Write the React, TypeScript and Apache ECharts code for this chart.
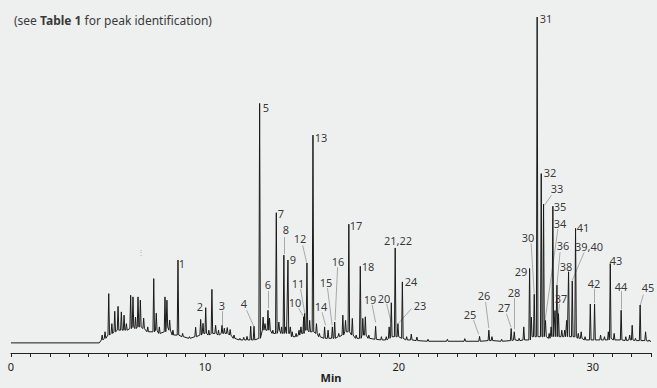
import React, { useEffect, useRef } from "react";
import * as echarts from "echarts";

// Retention time axis (min)
const xMin = 0;
const xMax = 33;
const xLabelEvery = 10;

// Chromatogram peaks: [retention time (min), apex height (% of peak 31), local foot level]
const peaks: [number, number, number][] = [
  [4.7, 2.5, 1], [4.85, 3.5, 1.5], [5.04, 15.2, 2.5], [5.2, 6, 3], [5.35, 9.8, 3.5],
  [5.52, 11.3, 4], [5.69, 9.6, 4], [5.83, 8.6, 4], [5.95, 6, 4], [6.17, 14.7, 4.5],
  [6.29, 14.2, 5], [6.42, 8, 4.5], [6.55, 14.2, 5], [6.67, 13.2, 5], [6.84, 7.7, 4.5],
  [7.05, 5, 3.5], [7.36, 19.8, 3.5], [7.49, 9.2, 4], [7.65, 5, 3], [7.94, 14.2, 3.5],
  [8.04, 13.2, 5], [8.18, 7.1, 4], [8.35, 4, 2.5], [8.61, 25.5, 2.5], [8.85, 3, 2],
  [9.2, 2, 1.5], [9.52, 4.9, 2], [9.78, 7.3, 2.5], [9.9, 6.1, 3], [10.04, 10.9, 3],
  [10.2, 4, 2.5], [10.36, 16.5, 3], [10.55, 5.5, 3], [10.7, 4, 2.5], [10.88, 5.5, 3],
  [11.0, 4.6, 3], [11.15, 4.8, 3], [11.3, 4.2, 2.5], [11.5, 2.5, 1.5], [11.8, 1.5, 1],
  [12.0, 1.8, 1], [12.17, 2.1, 1], [12.36, 5.2, 1], [12.53, 5.2, 1], [12.82, 73.5, 1.5],
  [13.0, 8, 4], [13.1, 6, 4], [13.25, 10.1, 4], [13.33, 7.7, 4], [13.5, 4, 3],
  [13.68, 40, 3], [13.81, 6.5, 4], [13.95, 5, 3], [14.07, 27, 3], [14.17, 5, 3],
  [14.28, 25.5, 3], [14.4, 5, 3], [14.5, 3.5, 2], [14.7, 3, 2], [14.85, 4, 2.5],
  [14.95, 5, 3], [15.09, 8.1, 3], [15.14, 9.1, 4], [15.26, 24.6, 4], [15.4, 7, 3.5],
  [15.57, 63.8, 3.5], [15.75, 6, 3], [15.9, 3, 2], [16.17, 5, 1.5], [16.35, 4, 1.5],
  [16.57, 5, 1.5], [16.69, 6.5, 1.5], [16.9, 3, 2], [17.11, 8.6, 2.5], [17.25, 7, 3.5],
  [17.42, 36.5, 3.5], [17.6, 7.6, 2.5], [17.8, 2.5, 1.5], [18.01, 23.6, 1.5], [18.14, 7.6, 2.5],
  [18.27, 8.1, 2.5], [18.45, 2.5, 1.5], [18.8, 5.2, 1.2], [19.1, 2, 1], [19.35, 2, 1],
  [19.5, 5, 1.5], [19.61, 12.4, 2], [19.81, 29.2, 2], [19.95, 6, 2], [20.18, 18.8, 1.5],
  [20.4, 2, 1], [20.64, 2.8, 1], [20.93, 1.9, 0.8], [21.5, 1.2, 0.6], [22.5, 1.2, 0.6],
  [23.4, 1.4, 0.6], [24.16, 2.1, 0.6], [24.64, 4, 0.8], [24.8, 2, 0.8], [25.3, 1.2, 0.6],
  [25.79, 4.5, 0.8], [25.95, 3.5, 1], [26.2, 1.5, 0.8], [26.44, 5, 1], [26.74, 22.9, 1],
  [26.83, 8, 2], [26.98, 15, 2], [27.13, 100, 2], [27.34, 52, 2], [27.46, 42.6, 2],
  [27.56, 7, 2], [27.75, 3, 1.5], [27.85, 5, 2], [27.94, 42, 2], [28.05, 10, 2],
  [28.15, 17.8, 2], [28.23, 9.1, 2], [28.4, 4, 2], [28.55, 4, 2], [28.65, 7, 2],
  [28.75, 21.9, 2], [28.94, 19.1, 2], [29.11, 35.2, 2], [29.25, 3, 1.5], [29.4, 3.5, 1.5],
  [29.6, 2, 1], [29.87, 12, 1], [30.09, 12, 1], [30.4, 2.5, 1], [30.6, 2, 1],
  [30.8, 3.5, 1], [30.9, 24.4, 1.5], [31.1, 3, 1], [31.46, 10.1, 1], [31.7, 2, 0.8],
  [31.9, 2.5, 1], [32.03, 5.5, 1], [32.2, 1.5, 0.8], [32.44, 11.7, 0.8], [32.72, 3.5, 0.8],
  [32.9, 1, 0.6],
];

// Flat baseline before elution and at the end of the run: [time, level]
const leadBaseline: [number, number][] = [[0, 0.1], [4.55, 0.1]];
const tailBaseline: [number, number][] = [[33, 0.6]];

// Peak number labels
const labelTexts = [
  "1", "2", "3", "4", "5", "6", "7", "8", "9", "10", "11", "12", "13", "14", "15",
  "16", "17", "18", "19", "20", "21,22", "23", "24", "25", "26", "27", "28", "29", "30",
  "31", "32", "33", "34", "35", "36", "37", "38", "39,40", "41", "42", "43", "44", "45",
];

// Layout (data coordinates) of each label: [x, y]
const labelSpots: [number, number][] = [
  [8.81, 24.6], [9.73, 11.3], [10.88, 11.7], [12.01, 12.2], [13.16, 72.5],
  [13.25, 18], [13.94, 39.8], [14.2, 34.9], [14.54, 25.7], [14.62, 12.7],
  [14.79, 18.5], [14.92, 32.1], [16.0, 63.3], [16.0, 11.3], [16.26, 18.8],
  [16.86, 25.2], [17.8, 36.2], [18.4, 23.6], [18.49, 13.7], [19.23, 14],
  [19.95, 31.6], [21.07, 11.7], [20.64, 19.1], [23.68, 8.9], [24.37, 14.7],
  [25.4, 11], [25.96, 15.6], [26.31, 22.2], [26.65, 32.6], [27.6, 99.6],
  [27.77, 52.4], [28.14, 47.5], [28.32, 36.9], [28.32, 42], [28.45, 30.1],
  [28.37, 13.9], [28.63, 23.7], [29.79, 29.8], [29.48, 35.5], [30.04, 18.6],
  [31.21, 25.5], [31.46, 17.6], [32.84, 17.1],
];

// Leader lines (data coordinates): [[x1, y1], [x2, y2]]
const leaders: [[number, number], [number, number]][] = [
  [[10.88, 9.8], [10.88, 5.6]],
  [[12.15, 10.1], [12.51, 5.3]],
  [[13.25, 16], [13.25, 10.7]],
  [[14.07, 32.5], [14.07, 27.3]],
  [[14.83, 10.7], [15.07, 8.3]],
  [[14.93, 16.6], [15.16, 8.9]],
  [[15.04, 30], [15.24, 24.8]],
  [[16.04, 9.5], [16.22, 5.5]],
  [[16.32, 16.9], [16.56, 5.5]],
  [[16.84, 23.3], [16.71, 7]],
  [[18.62, 11.8], [18.8, 6.4]],
  [[19.37, 12.1], [19.6, 6.4]],
  [[20.65, 10.6], [19.98, 6.1]],
  [[23.85, 7.1], [24.11, 2.8]],
  [[24.47, 12.6], [24.64, 4.6]],
  [[25.55, 9], [25.78, 4.9]],
  [[25.96, 13.8], [25.96, 4.3]],
  [[26.82, 30.6], [26.98, 15.2]],
  [[27.87, 45.4], [27.51, 42.3]],
  [[28.2, 35], [27.54, 7.1]],
  [[28.31, 27.9], [28.15, 17.8]],
  [[28.28, 12], [28.23, 9.2]],
  [[29.55, 27.8], [28.94, 19.3]],
  [[30.09, 16.7], [30.09, 12.3]],
  [[31.46, 16], [31.46, 10.4]],
  [[32.61, 14.9], [32.44, 11.5]],
];

const PEAK_HALF_WIDTH = 0.04;
const FONT = "'Noto Sans', 'Open Sans', sans-serif";

function buildTrace(): [number, number][] {
  const pts: [number, number][] = [...leadBaseline];
  peaks.forEach(([t, h, f], i) => {
    const prev = i > 0 ? peaks[i - 1][0] : t - 1;
    const next = i < peaks.length - 1 ? peaks[i + 1][0] : t + 1;
    const l = Math.min(PEAK_HALF_WIDTH, (t - prev) / 2);
    const r = Math.min(PEAK_HALF_WIDTH, (next - t) / 2);
    pts.push([t - l, f], [t, h], [t + r, f]);
  });
  pts.push(...tailBaseline);
  return pts;
}

export default function App() {
  const ref = useRef<HTMLDivElement>(null);
  useEffect(() => {
    if (!ref.current) return;
    const chart = echarts.init(ref.current, undefined, { renderer: "svg" });
    chart.setOption({
      animation: false,
      backgroundColor: "#eef0ef",
      textStyle: { fontFamily: FONT },
      title: {
        left: 9,
        top: 9,
        text: "{a|(see }{b|Table 1}{a| for peak identification)}",
        textStyle: {
          fontWeight: "normal",
          rich: {
            a: { fontSize: 12, color: "#3a3a3a", fontWeight: "normal", fontFamily: FONT },
            b: { fontSize: 12, color: "#3a3a3a", fontWeight: "bold", fontFamily: FONT },
          },
        },
      },
      grid: { left: 11, right: 6, top: 17, bottom: 35, containLabel: false, outerBoundsMode: "none" },
      xAxis: {
        type: "value",
        min: xMin,
        max: xMax,
        interval: 1,
        axisLine: { onZero: false, lineStyle: { color: "#222", width: 1 } },
        axisTick: { length: 4, lineStyle: { color: "#222" } },
        axisLabel: {
          formatter: (v: number) => (v % xLabelEvery === 0 ? String(v) : ""),
          color: "#222",
          fontSize: 11,
          margin: 8,
          fontFamily: FONT,
        },
        splitLine: { show: false },
        name: "Min",
        nameLocation: "middle",
        nameGap: 19,
        nameMoveOverlap: false,
        nameTextStyle: { fontWeight: "bold", fontSize: 11, color: "#222", fontFamily: FONT },
      },
      yAxis: { type: "value", min: -3, max: 100, show: false },
      series: [
        {
          type: "line",
          data: buildTrace(),
          showSymbol: false,
          symbol: "none",
          lineStyle: { color: "#1a1a1a", width: 1 },
          silent: true,
          z: 3,
        },
        {
          type: "lines",
          coordinateSystem: "cartesian2d",
          data: leaders.map((c) => ({ coords: c })),
          lineStyle: { color: "#a8a8a8", width: 1, opacity: 1 },
          silent: true,
          z: 2,
        },
      ],
    });
    const texts: any[] = labelSpots.map((p, i) => {
      const px = chart.convertToPixel({ gridIndex: 0 }, p) as number[];
      return {
        type: "text",
        x: Math.round(px[0]),
        y: Math.round(px[1]),
        silent: true,
        z: 10,
        style: {
          text: labelTexts[i],
          fill: "#333",
          opacity: 0.99,
          font: `11px ${FONT}`,
          align: "center",
          verticalAlign: "middle",
        },
      };
    });
    texts.push({
      type: "text",
      x: 141,
      y: 251,
      silent: true,
      style: { text: "⋮", fill: "#aaa", font: `8px ${FONT}`, align: "center", verticalAlign: "middle" },
    });
    chart.setOption({ graphic: texts });
    return () => chart.dispose();
  }, []);
  return (
    <div
      ref={ref}
      style={{ position: "absolute", left: 0, top: 0, width: 657, height: 388 }}
    />
  );
}
